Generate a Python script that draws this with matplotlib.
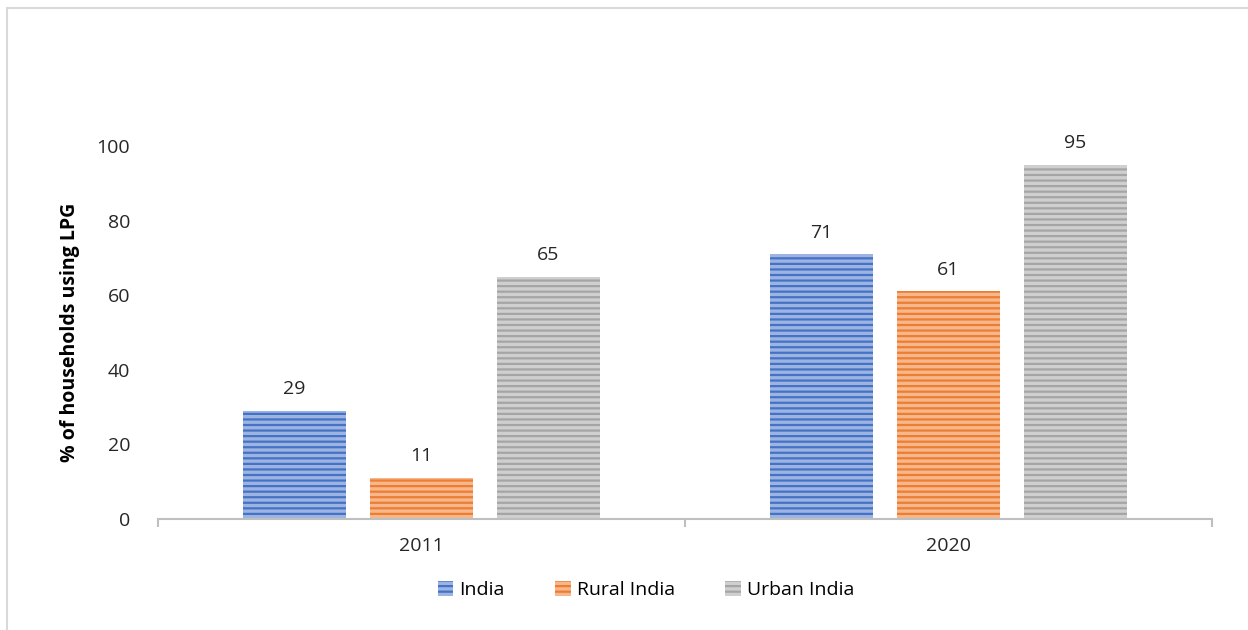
import matplotlib.pyplot as plt
import numpy as np
from matplotlib.patches import Rectangle

years = ["2011", "2020"]
series = ["India", "Rural India", "Urban India"]
values = {
    "India": [29, 71],
    "Rural India": [11, 61],
    "Urban India": [65, 95],
}
faces = ["#9db4e3", "#f6b78c", "#cfcfcf"]
hatches = ["#4472c4", "#ed7d31", "#a5a5a5"]

plt.rcParams["font.family"] = ["Open Sans", "DejaVu Sans"]
plt.rcParams["hatch.linewidth"] = 1.6

fig = plt.figure(figsize=(12.48, 6.3), dpi=100)
ax = fig.add_axes([0.1266, 0.1762, 0.8446, 0.5921])

x = np.arange(len(years))
width = 0.195
step = 0.241
for i, name in enumerate(series):
    pos = x + (i - 1) * step
    bars = ax.bar(pos, values[name], width, color=faces[i], edgecolor=hatches[i],
                  linewidth=0, hatch="---", label=name)
    for b, v in zip(bars, values[name]):
        ax.annotate(str(v), (b.get_x() + b.get_width() / 2, v), xytext=(0, 9),
                    textcoords="offset points", ha="center", va="bottom",
                    fontsize=14, color="#262626", annotation_clip=False)

ax.set_xlim(-0.5, 1.5)
ax.set_ylim(0, 100)
ax.set_yticks([0, 20, 40, 60, 80, 100])
ax.set_xticks(x)
ax.set_xticklabels(years)
ax.set_xticks([-0.5, 0.5, 1.5], minor=True)
ax.tick_params(axis="x", which="major", length=0, pad=13, labelsize=14, labelcolor="#262626")
ax.tick_params(axis="x", which="minor", length=6, width=1.5, color="#bfbfbf")
ax.tick_params(axis="y", length=0, pad=20, labelsize=14, labelcolor="#262626")
for s in ["top", "right", "left"]:
    ax.spines[s].set_visible(False)
ax.spines["bottom"].set_color("#bfbfbf")
ax.spines["bottom"].set_linewidth(1.5)

ax.set_ylabel("% of households using LPG", fontsize=14, fontweight="bold", labelpad=12)

fig.legend(loc="center", bbox_to_anchor=(646 / 1248, 1 - 590 / 630), ncol=3, frameon=False,
           fontsize=14, handlelength=0.8, handleheight=0.8, columnspacing=2.6,
           handletextpad=0.3)

fig.patches.append(Rectangle((7 / 1248, -0.1), 1.1, 1 - 8 / 630 + 0.1,
                             transform=fig.transFigure, fill=False,
                             edgecolor="#d9d9d9", linewidth=1.5))

fig.savefig("out.png", dpi=100)
